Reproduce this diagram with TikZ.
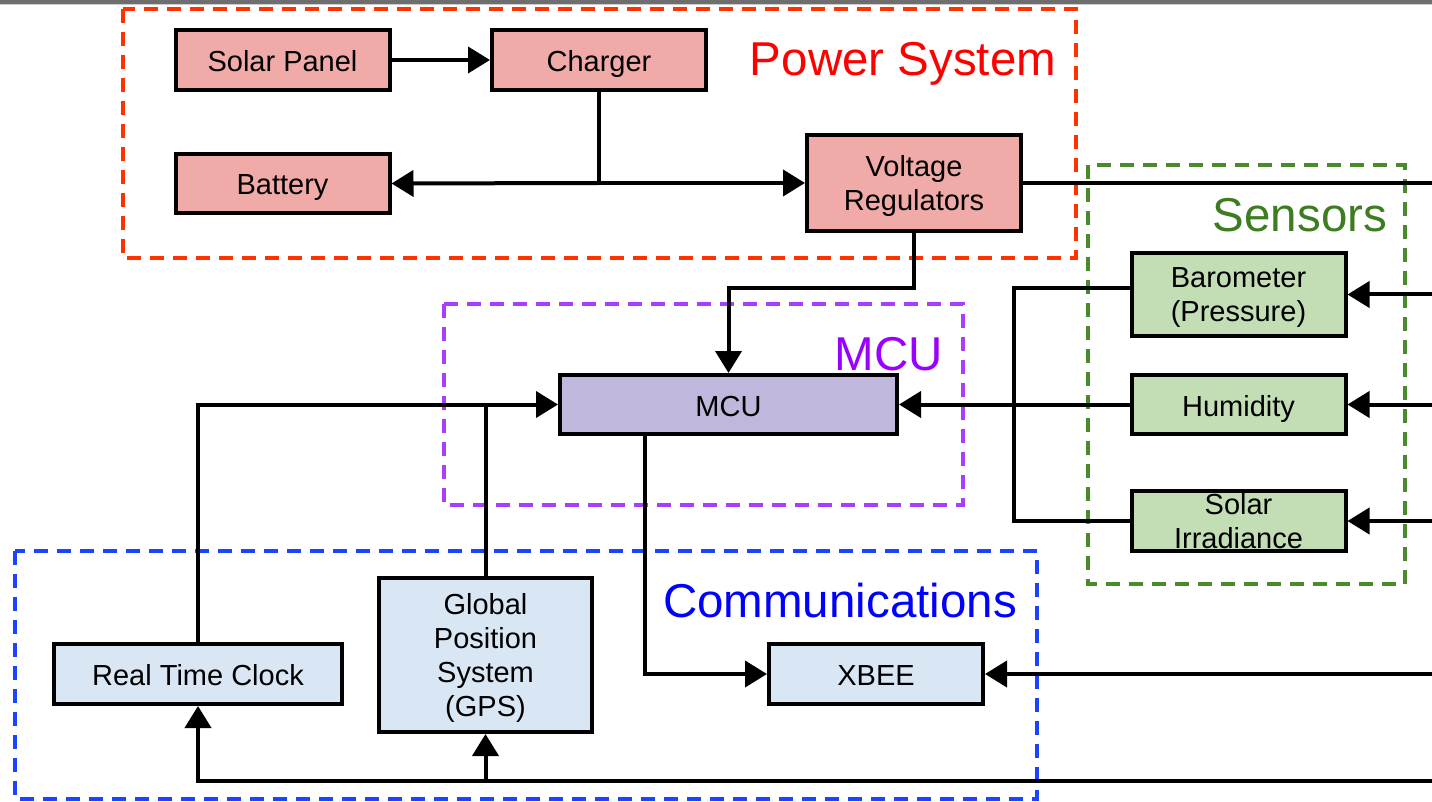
\documentclass[tikz,border=0pt]{standalone}
\usepackage{fontspec}
\setmainfont{Liberation Sans}
\usepackage{xcolor}
\usetikzlibrary{arrows.meta,calc}

\definecolor{pwrfill}{HTML}{F0AAA8}
\definecolor{mcufill}{HTML}{C0B8DC}
\definecolor{senfill}{HTML}{C3DDB5}
\definecolor{comfill}{HTML}{D9E7F5}
\definecolor{pwrline}{HTML}{FF3300}
\definecolor{mculine}{HTML}{A83CFF}
\definecolor{senline}{HTML}{4A8A2A}
\definecolor{comline}{HTML}{1A44FF}
\definecolor{pwrtext}{HTML}{FF0000}
\definecolor{mcutext}{HTML}{9900FF}
\definecolor{sentext}{HTML}{3D7D1F}
\definecolor{comtext}{HTML}{0000FF}

\begin{document}
\begin{tikzpicture}[x=1pt, y=-1pt,
  every node/.style={font=\fontsize{29}{34}\selectfont},
  box/.style={draw, line width=4pt, minimum width=214pt, minimum height=60pt, align=center, inner sep=0pt,
    text depth=0pt, execute at begin node={\rule{0pt}{23pt}}},
  grp/.style={line width=4pt, dash pattern=on 14pt off 9pt},
  ttl/.style={font=\fontsize{47.5}{52}\selectfont, anchor=base},
  ln/.style={line width=4pt},
  arr/.style={-{Triangle[length=22pt,width=26pt]}, line width=4pt},
]
\useasboundingbox (0,0) rectangle (1432,802);
\fill[white] (0,0) rectangle (1432,802);
\fill[black!57] (0,0) rectangle (1432,4);
\draw[black!20, line width=1pt] (0,4.5) -- (1432,4.5);

% groups
\draw[grp, pwrline] (123,9) rectangle (1076,258);
\draw[grp, mculine] (444,304) rectangle (963,505);
\draw[grp, senline] (1088,165) rectangle (1405,584);
\draw[grp, comline] (15,551) rectangle (1037,799);
\node[ttl, pwrtext] (tPwr) at (903,76) {Power System};
\node[ttl, mcutext] (tMcu) at (889,370) {MCU};
\node[ttl, sentext] (tSen) at (1300,232) {Sensors};
\node[ttl, comtext] (tCom) at (840,617) {Communications};

% blocks
\node[box, fill=pwrfill] (sp) at (282.5,60) {Solar Panel};
\node[box, fill=pwrfill] (chg) at (599,60) {Charger};
\node[box, fill=pwrfill, minimum height=59pt] (bat) at (282.5,183.5) {Battery};
\node[box, fill=pwrfill, minimum height=96pt] (vr) at (914,183) {Voltage\\Regulators};
\node[box, fill=mcufill, minimum width=337pt, minimum height=59pt] (mcu) at (728.5,404.5) {MCU};
\node[box, fill=senfill, minimum height=83pt] (baro) at (1238.5,294.5) {Barometer\\(Pressure)};
\node[box, fill=senfill, minimum height=59pt] (hum) at (1238.5,404.5) {Humidity};
\node[box, fill=senfill] (sol) at (1238.5,521) {Solar\\Irradiance};
\node[box, fill=comfill, minimum width=288pt] (rtc) at (198,674) {Real Time Clock};
\node[box, fill=comfill, minimum width=213pt, minimum height=154pt] (gps) at (485.5,655) {Global\\Position\\System\\(GPS)};
\node[box, fill=comfill] (xbee) at (876,674) {XBEE};

\coordinate (edge) at (1432,0);
\coordinate (bus) at (1014,0);
\coordinate (jn) at (chg.south |- vr.west);
\coordinate (bot) at (1432,781);

% power
\draw[arr] (sp) -- (chg);
\draw[ln] (chg.south) -- (jn);
\draw[arr] (jn) -- (bat.east);
\draw[arr] (jn) -- (vr.west);
\draw[ln] (vr.east) -- (vr.east -| edge);
\draw[arr] (vr.south) -- ++(0,55) -| (mcu.north);

% sensors
\draw[arr] (baro.east -| edge) -- (baro.east);
\draw[arr] (hum.east -| edge) -- (hum.east);
\draw[arr] (sol.east -| edge) -- (sol.east);
\draw[ln] ([yshift=6pt]baro.west) -- ([yshift=6pt]baro.west -| bus) -- (sol.west -| bus) -- (sol.west);
\draw[arr] (hum.west) -- (mcu.east);

% communications
\draw[arr] (rtc.north) |- (mcu.west);
\draw[ln] (gps.north) -- (gps.north |- mcu.west);
\draw[arr] ([xshift=-84pt]mcu.south) |- (xbee.west);
\draw[arr] (xbee.east -| edge) -- (xbee.east);
\draw[arr] (bot) -| (rtc.south);
\draw[arr] (gps.south |- bot) -- (gps.south);
\end{tikzpicture}
\end{document}
